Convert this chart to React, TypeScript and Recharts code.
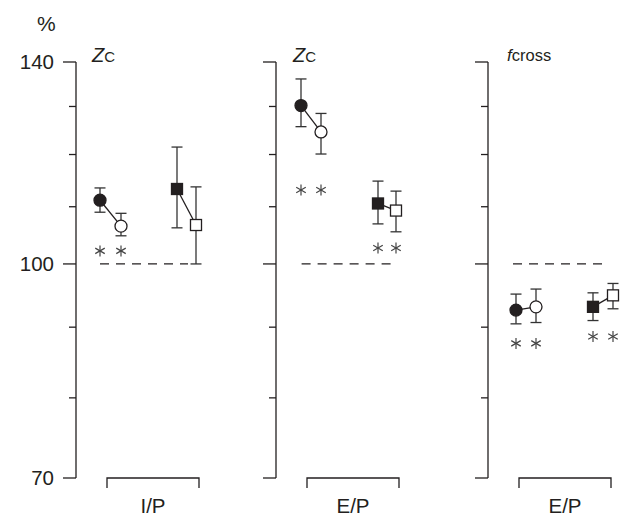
import React from 'react';
import { ComposedChart, Scatter, XAxis, YAxis, ErrorBar, ReferenceLine } from 'recharts';

// shared axis
const yTicks = [70, 80, 90, 100, 110, 120, 130, 140];
const yLabelled = [70, 100, 140];

// panel 1 – Zc, I/P  (order: filled circle, open circle, filled square, open square)
const p1Pos = [1.2, 2.25, 5.05, 6.0];
const p1Mean = [111.2, 106.5, 113.3, 106.7];
const p1Low = [109.0, 104.8, 106.2, 100.0];
const p1High = [113.5, 108.8, 121.5, 113.7];
const p1Stars = [102.2, 102.2, null, null];
const p1Dash = [1.2, 5.6];

// panel 2 – Zc, E/P
const p2Pos = [1.25, 2.25, 5.1, 6.0];
const p2Mean = [130.2, 124.6, 110.6, 109.3];
const p2Low = [125.7, 120.1, 106.9, 105.5];
const p2High = [136.1, 128.5, 114.8, 112.9];
const p2Stars = [113.1, 113.1, 102.7, 102.7];
const p2Dash = [1.28, 6.05];

// panel 3 – fcross, E/P
const p3Pos = [1.4, 2.4, 5.25, 6.25];
const p3Mean = [92.6, 93.1, 93.1, 94.9];
const p3Low = [90.5, 90.7, 91.0, 92.8];
const p3High = [95.1, 95.9, 95.3, 96.8];
const p3Stars = [87.6, 87.6, 88.6, 88.6];
const p3Dash = [1.25, 6.0];

const groupLabels = ['I/P', 'E/P', 'E/P'];
const groupCenter = 3.85;

const INK = '#231f20';
const FONT = '"Liberation Sans", Arial, sans-serif';

const point = (pos: number[], mean: number[], low: number[], high: number[], i: number) => ({
  x: pos[i],
  y: mean[i],
  err: [mean[i] - low[i], high[i] - mean[i]],
  filled: i % 2 === 0,
});

const CircleShape = (props: any) => {
  const { cx, cy, payload } = props;
  return <circle cx={cx} cy={cy} r={6} fill={payload.filled ? INK : '#fff'} stroke={INK} strokeWidth={1.3} />;
};

const SquareShape = (props: any) => {
  const { cx, cy, payload } = props;
  return (
    <rect x={cx - 5.5} y={cy - 5.5} width={11} height={11}
      fill={payload.filled ? INK : '#fff'} stroke={INK} strokeWidth={1.3} />
  );
};

const StarShape = (props: any) => {
  const { cx, cy } = props;
  const r = 5.5;
  return (
    <g stroke="#444" strokeWidth={1.2}>
      {[90, 30, 150].map((a) => {
        const t = (a * Math.PI) / 180;
        return (
          <line key={a} x1={cx - r * Math.cos(t)} y1={cy - r * Math.sin(t)}
            x2={cx + r * Math.cos(t)} y2={cy + r * Math.sin(t)} />
        );
      })}
    </g>
  );
};

const makeYTick = (labels: boolean) => (props: any) => {
  const { x, y, payload } = props;
  const major = yLabelled.includes(payload.value);
  const len = major ? 13 : 7;
  return (
    <g>
      <line x1={x - len} y1={y} x2={x} y2={y} stroke={INK} strokeWidth={1.3} />
      {labels && major && (
        <text x={x - 22} y={y} dy="0.36em" textAnchor="end" fontSize={20.5} fill={INK} fontFamily={FONT}>
          {payload.value}
        </text>
      )}
    </g>
  );
};

const makeBracket = (label: string) => (props: any) => {
  const { x, y } = props;
  const hw = 46;
  return (
    <g>
      <path d={`M${x - hw},${y + 10} V${y} H${x + hw} V${y + 10}`} fill="none" stroke={INK} strokeWidth={1.3} />
      <text x={x} y={y + 35} textAnchor="middle" fontSize={20.5} fill={INK} fontFamily={FONT}>{label}</text>
    </g>
  );
};

interface PanelProps {
  left: number;
  width: number;
  pos: number[];
  mean: number[];
  low: number[];
  high: number[];
  stars: (number | null)[];
  dash: number[];
  label: string;
  yLabels: boolean;
}

const Panel = ({ left, width, pos, mean, low, high, stars, dash, label, yLabels }: PanelProps) => {
  const circles = [0, 1].map((i) => point(pos, mean, low, high, i));
  const squares = [2, 3].map((i) => point(pos, mean, low, high, i));
  const starPts = stars
    .map((s, i) => (s == null ? null : { x: pos[i], y: s }))
    .filter((d) => d != null);
  const axisW = 76;
  const pad = 20;
  const xMax = (width - axisW) / 20;

  return (
    <div style={{ position: 'absolute', left, top: 0 }}>
      <ComposedChart width={width + pad} height={517} margin={{ top: 62, right: pad, bottom: 9, left: 0 }}
        style={{ overflow: 'visible' }}>
        <XAxis type="number" dataKey="x" domain={[0, xMax]} ticks={[groupCenter]}
          axisLine={false} tickLine={false} tickSize={0} tickMargin={0} height={30}
          tick={makeBracket(label)} interval={0} />
        <YAxis type="number" dataKey="y" scale="log" domain={[70, 140]} ticks={yTicks}
          width={axisW} interval={0} tickSize={0} tickMargin={0} tickLine={false}
          axisLine={{ stroke: INK, strokeWidth: 1.3 }} tick={makeYTick(yLabels)} />
        <ReferenceLine segment={[{ x: dash[0], y: 100 }, { x: dash[1], y: 100 }]}
          stroke={INK} strokeWidth={1.3} strokeDasharray="9 7" />
        <Scatter data={circles} line={{ stroke: INK, strokeWidth: 1.3 }} shape={CircleShape} isAnimationActive={false}>
          <ErrorBar dataKey="err" direction="y" width={5.5} stroke="#333" strokeWidth={1.3} />
        </Scatter>
        <Scatter data={squares} line={{ stroke: INK, strokeWidth: 1.3 }} shape={SquareShape} isAnimationActive={false}>
          <ErrorBar dataKey="err" direction="y" width={5.5} stroke="#333" strokeWidth={1.3} />
        </Scatter>
        <Scatter data={starPts} shape={StarShape} isAnimationActive={false} />
      </ComposedChart>
    </div>
  );
};

export default function App() {
  return (
    <div style={{ position: 'absolute', left: 0, top: 0, width: 622, height: 517, background: '#fff', fontFamily: FONT, overflow: 'hidden' }}>
      <Panel left={0} width={200} pos={p1Pos} mean={p1Mean} low={p1Low} high={p1High}
        stars={p1Stars} dash={p1Dash} label={groupLabels[0]} yLabels />
      <Panel left={200} width={200} pos={p2Pos} mean={p2Mean} low={p2Low} high={p2High}
        stars={p2Stars} dash={p2Dash} label={groupLabels[1]} yLabels={false} />
      <Panel left={412} width={210} pos={p3Pos} mean={p3Mean} low={p3Low} high={p3High}
        stars={p3Stars} dash={p3Dash} label={groupLabels[2]} yLabels={false} />
      <svg width={622} height={517} style={{ position: 'absolute', left: 0, top: 0, pointerEvents: 'none' }}>
        <text x={37} y={31} fontSize={21} fill={INK} fontFamily={FONT}>%</text>
        <text x={92} y={62} fill={INK} fontFamily={FONT}>
          <tspan fontSize={20} fontStyle="italic">Z</tspan>
          <tspan fontSize={15}>C</tspan>
        </text>
        <text x={293} y={62} fill={INK} fontFamily={FONT}>
          <tspan fontSize={20} fontStyle="italic">Z</tspan>
          <tspan fontSize={15}>C</tspan>
        </text>
        <text x={507} y={61} fill={INK} fontFamily={FONT}>
          <tspan fontSize={17} fontStyle="italic">f</tspan>
          <tspan fontSize={16.5}>cross</tspan>
        </text>
      </svg>
    </div>
  );
}
